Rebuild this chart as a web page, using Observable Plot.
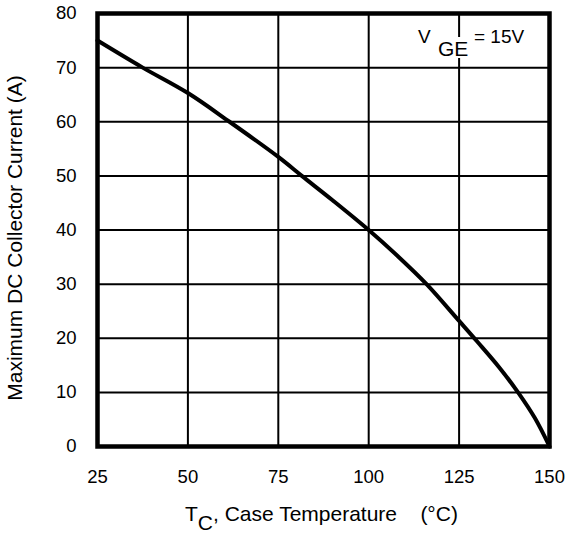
<!DOCTYPE html>
<html>
<head>
<meta charset="utf-8">
<script src="https://cdn.jsdelivr.net/npm/d3@7"></script>
<script src="https://cdn.jsdelivr.net/npm/@observablehq/plot@0.6"></script>
<style>
  html, body { margin: 0; padding: 0; background: #fff; }
  #chart { width: 568px; height: 534px; }
  svg text { font-family: "Liberation Sans", Arial, Helvetica, sans-serif; }
</style>
</head>
<body>
<div id="chart"></div>
<script>
// Case temperature (°C) and maximum DC collector current (A)
const temperature = [25, 37.5, 50, 61.5, 75, 81.5, 90, 100, 108, 116, 125, 130, 136, 141.3, 146, 150];
const current     = [75, 70, 65.3, 60, 53.5, 50, 45.5, 40, 35.2, 30, 23.2, 19.4, 14.7, 10, 5.2, 0];
const xTicks = [25, 50, 75, 100, 125, 150];
const yTicks = [0, 10, 20, 30, 40, 50, 60, 70, 80];
const xLabelMain = "T";
const xLabelSub = "C";
const xLabelRest = ", Case Temperature    (°C)";
const yLabel = "Maximum DC Collector Current (A)";
const noteMain = "V";
const noteSub = "GE";
const noteRest = "= 15V";

const data = temperature.map((t, i) => ({t, c: current[i]}));

const plot = Plot.plot({
  width: 568,
  height: 534,
  marginLeft: 97,
  marginRight: 19,
  marginTop: 13,
  marginBottom: 88,
  style: {fontFamily: "'Liberation Sans', Arial, sans-serif", fontSize: "18.5px", color: "#000", background: "#fff"},
  x: {domain: [25, 150], ticks: xTicks},
  y: {domain: [0, 80], ticks: yTicks},
  marks: [
    Plot.gridX(xTicks, {stroke: "#000", strokeOpacity: 1, strokeWidth: 2}),
    Plot.gridY(yTicks, {stroke: "#000", strokeOpacity: 1, strokeWidth: 2}),
    Plot.axisX(xTicks, {tickSize: 0, tickPadding: 23, label: null, fontSize: 18.5, fill: "#000"}),
    Plot.axisY(yTicks, {tickSize: 0, tickPadding: 21, label: null, fontSize: 18.5, fill: "#000"}),
    Plot.line(data, {x: "t", y: "c", curve: "catmull-rom", stroke: "#000", strokeWidth: 4}),
    Plot.frame({stroke: "#000", strokeWidth: 4.5})
  ]
});
document.getElementById("chart").appendChild(plot);

const svg = d3.select(plot);
const font = "'Liberation Sans', Arial, sans-serif";

// x axis label with subscript
const xl = svg.append("text")
  .attr("x", 185).attr("y", 521)
  .attr("text-anchor", "start")
  .attr("font-family", font).attr("font-size", 21).attr("fill", "#000")
  .attr("xml:space", "preserve").style("white-space", "pre");
xl.append("tspan").text(xLabelMain);
xl.append("tspan").attr("dy", 9).text(xLabelSub);
xl.append("tspan").attr("dy", -9).text(xLabelRest);

// y axis label
svg.append("text")
  .attr("transform", "translate(22,238) rotate(-90)")
  .attr("text-anchor", "middle")
  .attr("font-family", font).attr("font-size", 21).attr("fill", "#000")
  .text(yLabel);

// annotation V_GE = 15V
svg.append("rect").attr("x", 438).attr("y", 37).attr("width", 31).attr("height", 21).attr("fill", "#fff");
svg.append("text").attr("x", 418).attr("y", 43).attr("text-anchor", "start")
  .attr("font-family", font).attr("font-size", 19).attr("fill", "#000").text(noteMain);
svg.append("text").attr("x", 438).attr("y", 56).attr("text-anchor", "start")
  .attr("font-family", font).attr("font-size", 21).attr("fill", "#000").text(noteSub);
svg.append("text").attr("x", 474).attr("y", 43).attr("text-anchor", "start")
  .attr("font-family", font).attr("font-size", 19).attr("fill", "#000").text(noteRest);
</script>
</body>
</html>
